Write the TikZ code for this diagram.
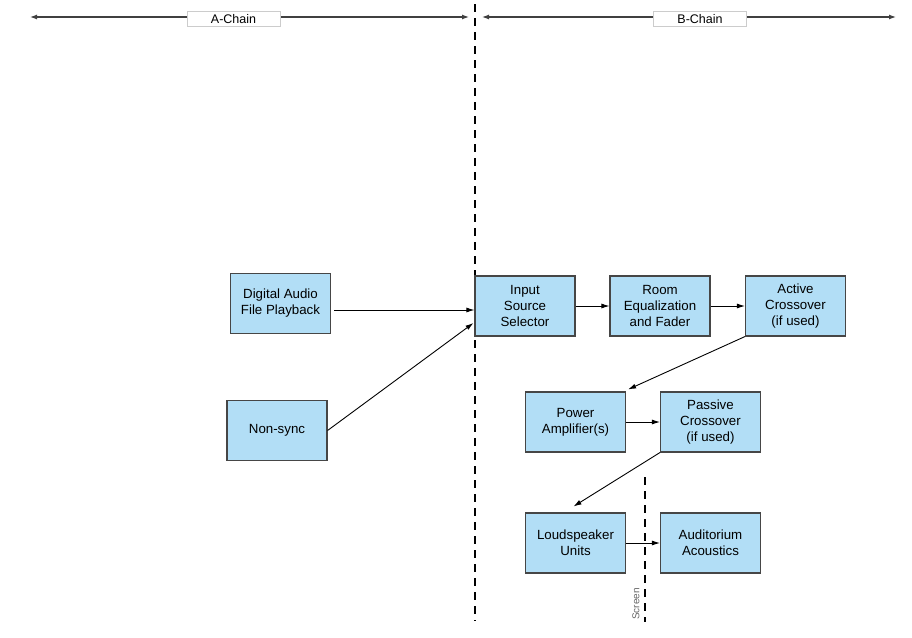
\documentclass[tikz,border=0pt]{standalone}
\usepackage{fontspec}
\setmainfont{Liberation Sans}
\usetikzlibrary{arrows.meta,calc}
\definecolor{boxblue}{RGB}{178,222,246}
\definecolor{boxline}{RGB}{70,70,70}
\begin{document}
\begin{tikzpicture}[x=1pt,y=-1pt,
  blk/.style={draw=boxline,line width=1.1pt,fill=boxblue,minimum width=100pt,minimum height=60pt,
    inner sep=0pt,align=center,font=\fontsize{13.3}{16}\selectfont},
  arr/.style={draw=black,line width=0.9pt,-{Latex[length=8pt,width=5pt]}},
  topline/.style={draw=black!75,line width=1.2pt,{Latex[length=7pt,width=5pt]}-{Latex[length=7pt,width=5pt]}},
  chainlbl/.style={draw=black!20,line width=0.4pt,fill=white,minimum width=93pt,minimum height=15pt,inner sep=0pt,font=\fontsize{12.5}{14}\selectfont},
  bigdash/.style={draw=black,line width=2pt,dash pattern=on 8pt off 6pt}
]
\useasboundingbox (0,0) rectangle (912,637);
% top chain arrows
\coordinate (aL) at (30,17);
\coordinate (aR) at (469,17);
\coordinate (bL) at (482,17);
\coordinate (bR) at (896,17);
\draw[topline] (aL) -- (aR);
\draw[topline] (bL) -- (bR);
\node[chainlbl] (achain) at (233.5,19) {A-Chain};
\node[chainlbl] (bchain) at (700,19) {B-Chain};
% dashed separators
\coordinate (m1) at (475,4);
\coordinate (m2) at (475,621);
\draw[bigdash] (m1) -- (m2);
\coordinate (s1) at (645,477);
\coordinate (s2) at (645,622);
\draw[bigdash,line width=1.8pt] (s1) -- (s2);
\node[rotate=90,text=black!60,font=\fontsize{10}{11}\selectfont,inner sep=0pt] (screen) at (636,604) {Screen};
% blocks
\node[blk] (dig) at (280.5,303.5) {Digital Audio\\File Playback};
\node[blk] (non) at (277,430.5) {Non-sync};
\node[blk] (inp) at (525,306) {Input\\Source\\Selector};
\node[blk] (room) at (660,306) {Room\\Equalization\\and Fader};
\node[blk] (act) at (795.5,306) {Active\\Crossover\\(if used)};
\node[blk] (pow) at (575.5,422) {Power\\Amplifier(s)};
\node[blk] (pas) at (710.5,422) {Passive\\Crossover\\(if used)};
\node[blk] (loud) at (575.5,543) {Loudspeaker\\Units};
\node[blk] (aud) at (710.5,543) {Auditorium\\Acoustics};
% connectors
\draw[arr] ($(dig.east)+(3,6.5)$) -- ($(inp.west)+(0,4)$);
\draw[arr] (non.east) -- ($(inp.west)+(-1,17)$);
\draw[arr] (inp.east) -- (room.west);
\draw[arr] (room.east) -- (act.west);
\draw[arr] (act.south west) -- ($(pow.north east)+(2,-2)$);
\draw[arr] (pow.east) -- (pas.west);
\draw[arr] (pas.south west) -- ($(loud.north)+(-2,-6)$);
\draw[arr] (loud.east) -- (aud.west);
\end{tikzpicture}
\end{document}
